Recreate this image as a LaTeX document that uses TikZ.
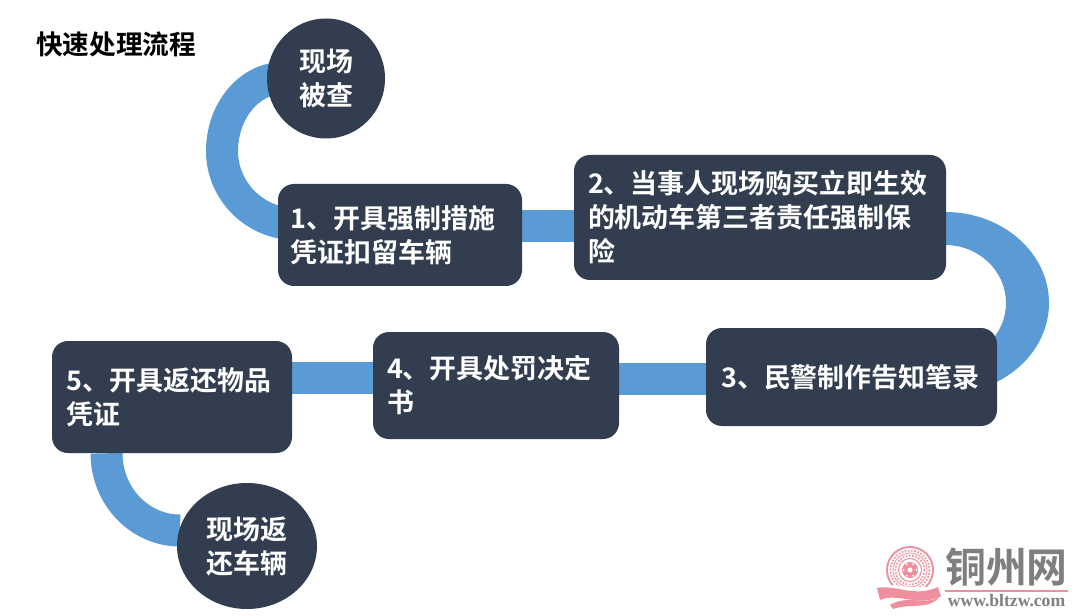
\documentclass[tikz,border=0pt]{standalone}
\usepackage{fontspec}
\setmainfont{Noto Sans CJK SC}[BoldFont={* Bold}]
\newfontfamily\logolatin{Liberation Serif}
\usetikzlibrary{backgrounds,calc,shapes.geometric}
\definecolor{navy}{HTML}{323E50}
\definecolor{bandblue}{HTML}{5B9BD5}
\definecolor{logopink}{HTML}{EF8F9E}
\definecolor{logogray}{HTML}{7F7F7F}
\tikzset{
  x=0.75pt,y=-0.75pt,
  stepbox/.style={fill=navy,text=white,rounded corners=12pt,font=\fontsize{20.2}{25.5}\selectfont\bfseries,
    align=left,inner xsep=0pt,inner ysep=0pt,anchor=center},
  stepdisc/.style={fill=navy,text=white,ellipse,font=\fontsize{20.2}{25.5}\selectfont\bfseries,align=center,inner sep=0pt},
  band/.style={draw=bandblue,line width=24pt,line cap=butt},
}
\begin{document}
\begin{tikzpicture}
\useasboundingbox (0,0) rectangle (1080,616);
\node[anchor=west,inner sep=0pt,font=\fontsize{20}{24}\selectfont\bfseries] (title) at (36,44) {快速处理流程};
\node[stepdisc,minimum width=88.5pt,minimum height=90pt] (c1) at (326,78.5) {现场\\被查};
\node[stepbox,minimum width=183pt,minimum height=76.5pt,text width=164pt] (r1) at (400,235) {1、开具强制措施\\凭证扣留车辆};
\node[stepbox,minimum width=279pt,minimum height=93.75pt,text width=258pt] (r2) at (760,217.5) {2、当事人现场购买立即生效\\的机动车第三者责任强制保\\险};
\node[stepbox,minimum width=218.25pt,minimum height=73.5pt,text width=195.5pt] (r3) at (851.5,377) {\raisebox{1.5pt}{3、民警制作告知笔录}};
\node[stepbox,minimum width=184.5pt,minimum height=80.25pt,text width=163.5pt] (r4) at (496,385.5) {4、开具处罚决定\\书};
\node[stepbox,minimum width=180pt,minimum height=84pt,text width=158pt] (r5) at (172,397) {5、开具返还物品\\凭证};
\node[stepdisc,minimum width=105pt,minimum height=94.5pt] (c2) at (247,546) {现场返\\还车辆};
\begin{scope}[on background layer]
\fill[white] (0,0) rectangle (1080,616);
\draw[band] ([shift={(-43,-0.5)}]c1.center) .. controls (249.3,78) and (222,111) .. (222,151)
   .. controls (222,191) and (255,224) .. ([shift={(-105,-11)}]r1.center);
\draw[band] ([yshift=6.75pt]r1.east) -- ([yshift=-6.375pt]r2.west);
\fill[bandblue] ([shift={(-1,-5.5)}]r2.east) .. controls (1002.4,212) and (1049,252.7) .. (1049,303)
   .. controls (1049,353.3) and (1002.4,394) .. (945,394) -- (945,361)
   .. controls (978.7,361) and (1006,335) .. (1006,303)
   .. controls (1006,271) and (978.7,245) .. ([shift={(-1,27.5)}]r2.east) -- cycle;
\draw[band] ([yshift=-1.5pt]r3.west) -- ([yshift=4.875pt]r4.east);
\draw[band] ([yshift=5.625pt]r4.west) -- ([yshift=14.25pt]r5.east);
\draw[band] ([xshift=-49.125pt]r5.south) .. controls (106.5,495.8) and (139.4,530.5) .. ([shift={(-67,-15.5)}]c2.center);
\end{scope}
% logo
\begin{scope}[logopink]
\fill (910,570) circle (24);
\fill[white] (910,570) circle (22);
\draw[line width=1.3pt,dash pattern=on 1.2pt off 1.2pt] (910,570) circle (19.5);
\draw[line width=0.6pt] (910,570) circle (17);
\draw[line width=1.3pt,dash pattern=on 1.2pt off 1.2pt] (910,570) circle (14.5);
\draw[line width=0.8pt] (910,570) circle (11.5);
\fill (910,570) circle (8);
\fill[white] (910,570) circle (2.5);
\foreach \a in {0,60,...,300} \fill[white] (910,570) ++(\a:6.5) circle (1.1);
\fill[white] (876,586) .. controls (895,582) and (915,592) .. (942,584) -- (942,610) -- (876,610) -- cycle;
\fill (877,588) .. controls (893,584) and (915,598) .. (938,587)
  .. controls (939,591) and (940,594) .. (941,596)
  .. controls (920,608) and (897,592) .. (880,600)
  .. controls (879,596) and (878,592) .. (877,588) -- cycle;
\fill (890,605) .. controls (908,594) and (925,606) .. (939,597)
  .. controls (930,610) and (910,603) .. (893,609) -- cycle;
\end{scope}
\node[inner sep=0pt,text=logogray,font=\fontsize{30.7}{31}\selectfont\bfseries] (lg) at (1006.5,567) {铜州网};
\fill[logopink] (945,590) rectangle (1068,592);
\node[inner sep=0pt,text=logogray,font=\logolatin\fontsize{13.2}{13}\selectfont\bfseries] (lw) at (1006.5,601) {www.bltzw.com};
\end{tikzpicture}
\end{document}
